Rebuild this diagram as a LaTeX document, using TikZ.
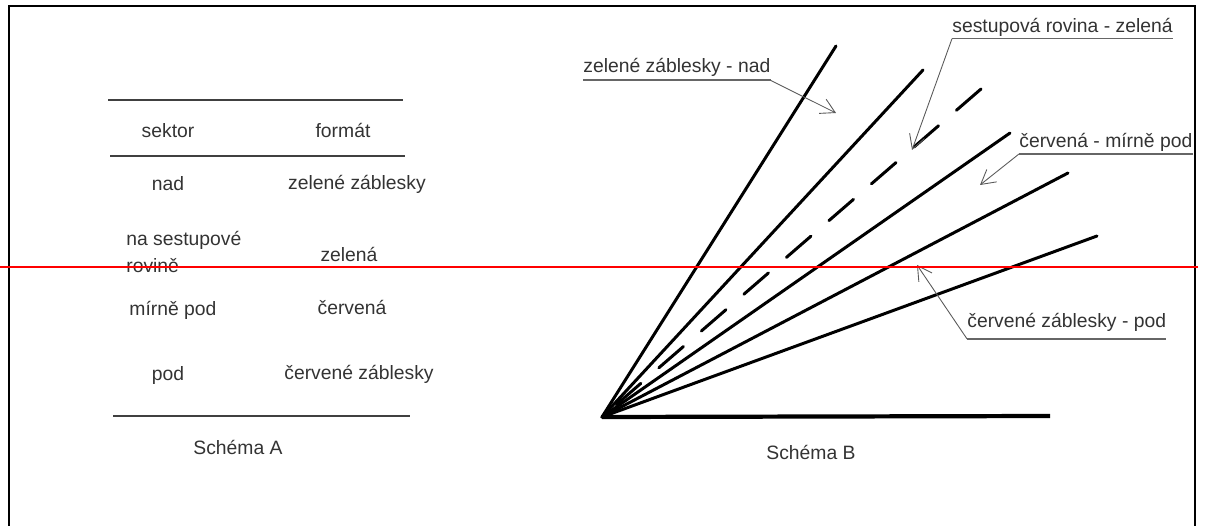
\documentclass[tikz,border=0pt]{standalone}
\usepackage{fontspec}
\setmainfont{Liberation Sans}
\usetikzlibrary{arrows.meta}

\begin{document}
\begin{tikzpicture}[x=0.02cm, y=-0.02cm, font=\fontsize{11pt}{13pt}\selectfont]
    \tikzset{
      txt/.style={text=black!80, inner sep=0pt, anchor=base},
      lbl/.style={text=black!80, inner sep=0pt, anchor=base west},
      rule/.style={draw=black!75, line width=0.8pt},
      ray/.style={line width=1.7pt, line cap=round},
      uline/.style={draw=black!60, line width=1pt},
      lead/.style={draw=black!65, line width=0.5pt, -{Straight Barb[length=8pt,width=9pt]}}
    }
    \useasboundingbox (0,0) rectangle (1209,526);
    \draw[line width=0.8pt] (9,528) -- (9,6) -- (1195,6) -- (1195,528);

    % Schema A
    \draw[rule] (108,100) -- (403,100);
    \draw[rule] (110,156) -- (405,156);
    \draw[rule] (113,416) -- (410,416);
    \node[txt] (sektor) at (168,138) {sektor};
    \node[txt] (format) at (343,138) {formát};
    \node[txt] (nad) at (168,191) {nad};
    \node[txt] (fnad) at (357,190) {zelené záblesky};
    \node[lbl, align=left] (nasest) at (126,273) {na sestupové\\[2.8pt]rovině};
    \node[txt] (fsest) at (349,262) {zelená};
    \node[txt] (mirne) at (173,316) {mírně pod};
    \node[txt] (fmirne) at (352,315) {červená};
    \node[txt] (pod) at (168,380) {pod};
    \node[txt] (fpod) at (359,379) {červené záblesky};
    \node[txt] (schemaA) at (238,454) {Schéma A};

    % Schema B
    \coordinate (o) at (602,417);
    \coordinate (r1) at (836,46);
    \coordinate (r2) at (923,70);
    \coordinate (gs) at (981,89);
    \coordinate (r4) at (1010,133);
    \coordinate (r5) at (1068,173);
    \coordinate (r6) at (1097,236);
    \coordinate (b) at (1050,416);
    \draw[line width=2.4pt] (o) -- (b);
    \foreach \r in {r1,r2,r4,r5,r6}
      \draw[ray] (o) -- (\r);
    \draw[ray, dash pattern=on 18.5pt off 13.5pt] (gs) -- (o);
    \node[txt] (schemaB) at (811,459) {Schéma B};

    \node[lbl] (lnad) at (583,73) {zelené záblesky - nad};
    \node[lbl] (lgs) at (952,33) {sestupová rovina - zelená};
    \node[lbl] (lmirne) at (1019,148) {červená - mírně pod};
    \node[lbl] (lpod) at (967,328) {červené záblesky - pod};
    \coordinate (tnad) at (836,113);
    \coordinate (tgs) at (912,150);
    \coordinate (tmirne) at (980,185);
    \coordinate (tpod) at (917,265);
    \draw[uline] ([yshift=-4.2pt]lnad.base west) -- ([yshift=-4.2pt]lnad.base east);
    \draw[lead] ([yshift=-4.2pt]lnad.base east) -- (tnad);
    \draw[uline] ([yshift=-3.2pt]lgs.base west) -- ([yshift=-3.2pt]lgs.base east);
    \draw[lead] ([yshift=-3.2pt]lgs.base west) -- (tgs);
    \draw[uline] ([yshift=-3.4pt]lmirne.base west) -- ([yshift=-3.4pt]lmirne.base east);
    \draw[lead] ([yshift=-3.4pt]lmirne.base west) -- (tmirne);
    \draw[uline] ([yshift=-6.2pt]lpod.base west) -- ([yshift=-6.2pt]lpod.base east);
    \draw[lead] ([yshift=-6.2pt]lpod.base west) -- (tpod);

    \draw[red, line width=0.9pt] (0,267) -- (1198,267);
\end{tikzpicture}
\end{document}
